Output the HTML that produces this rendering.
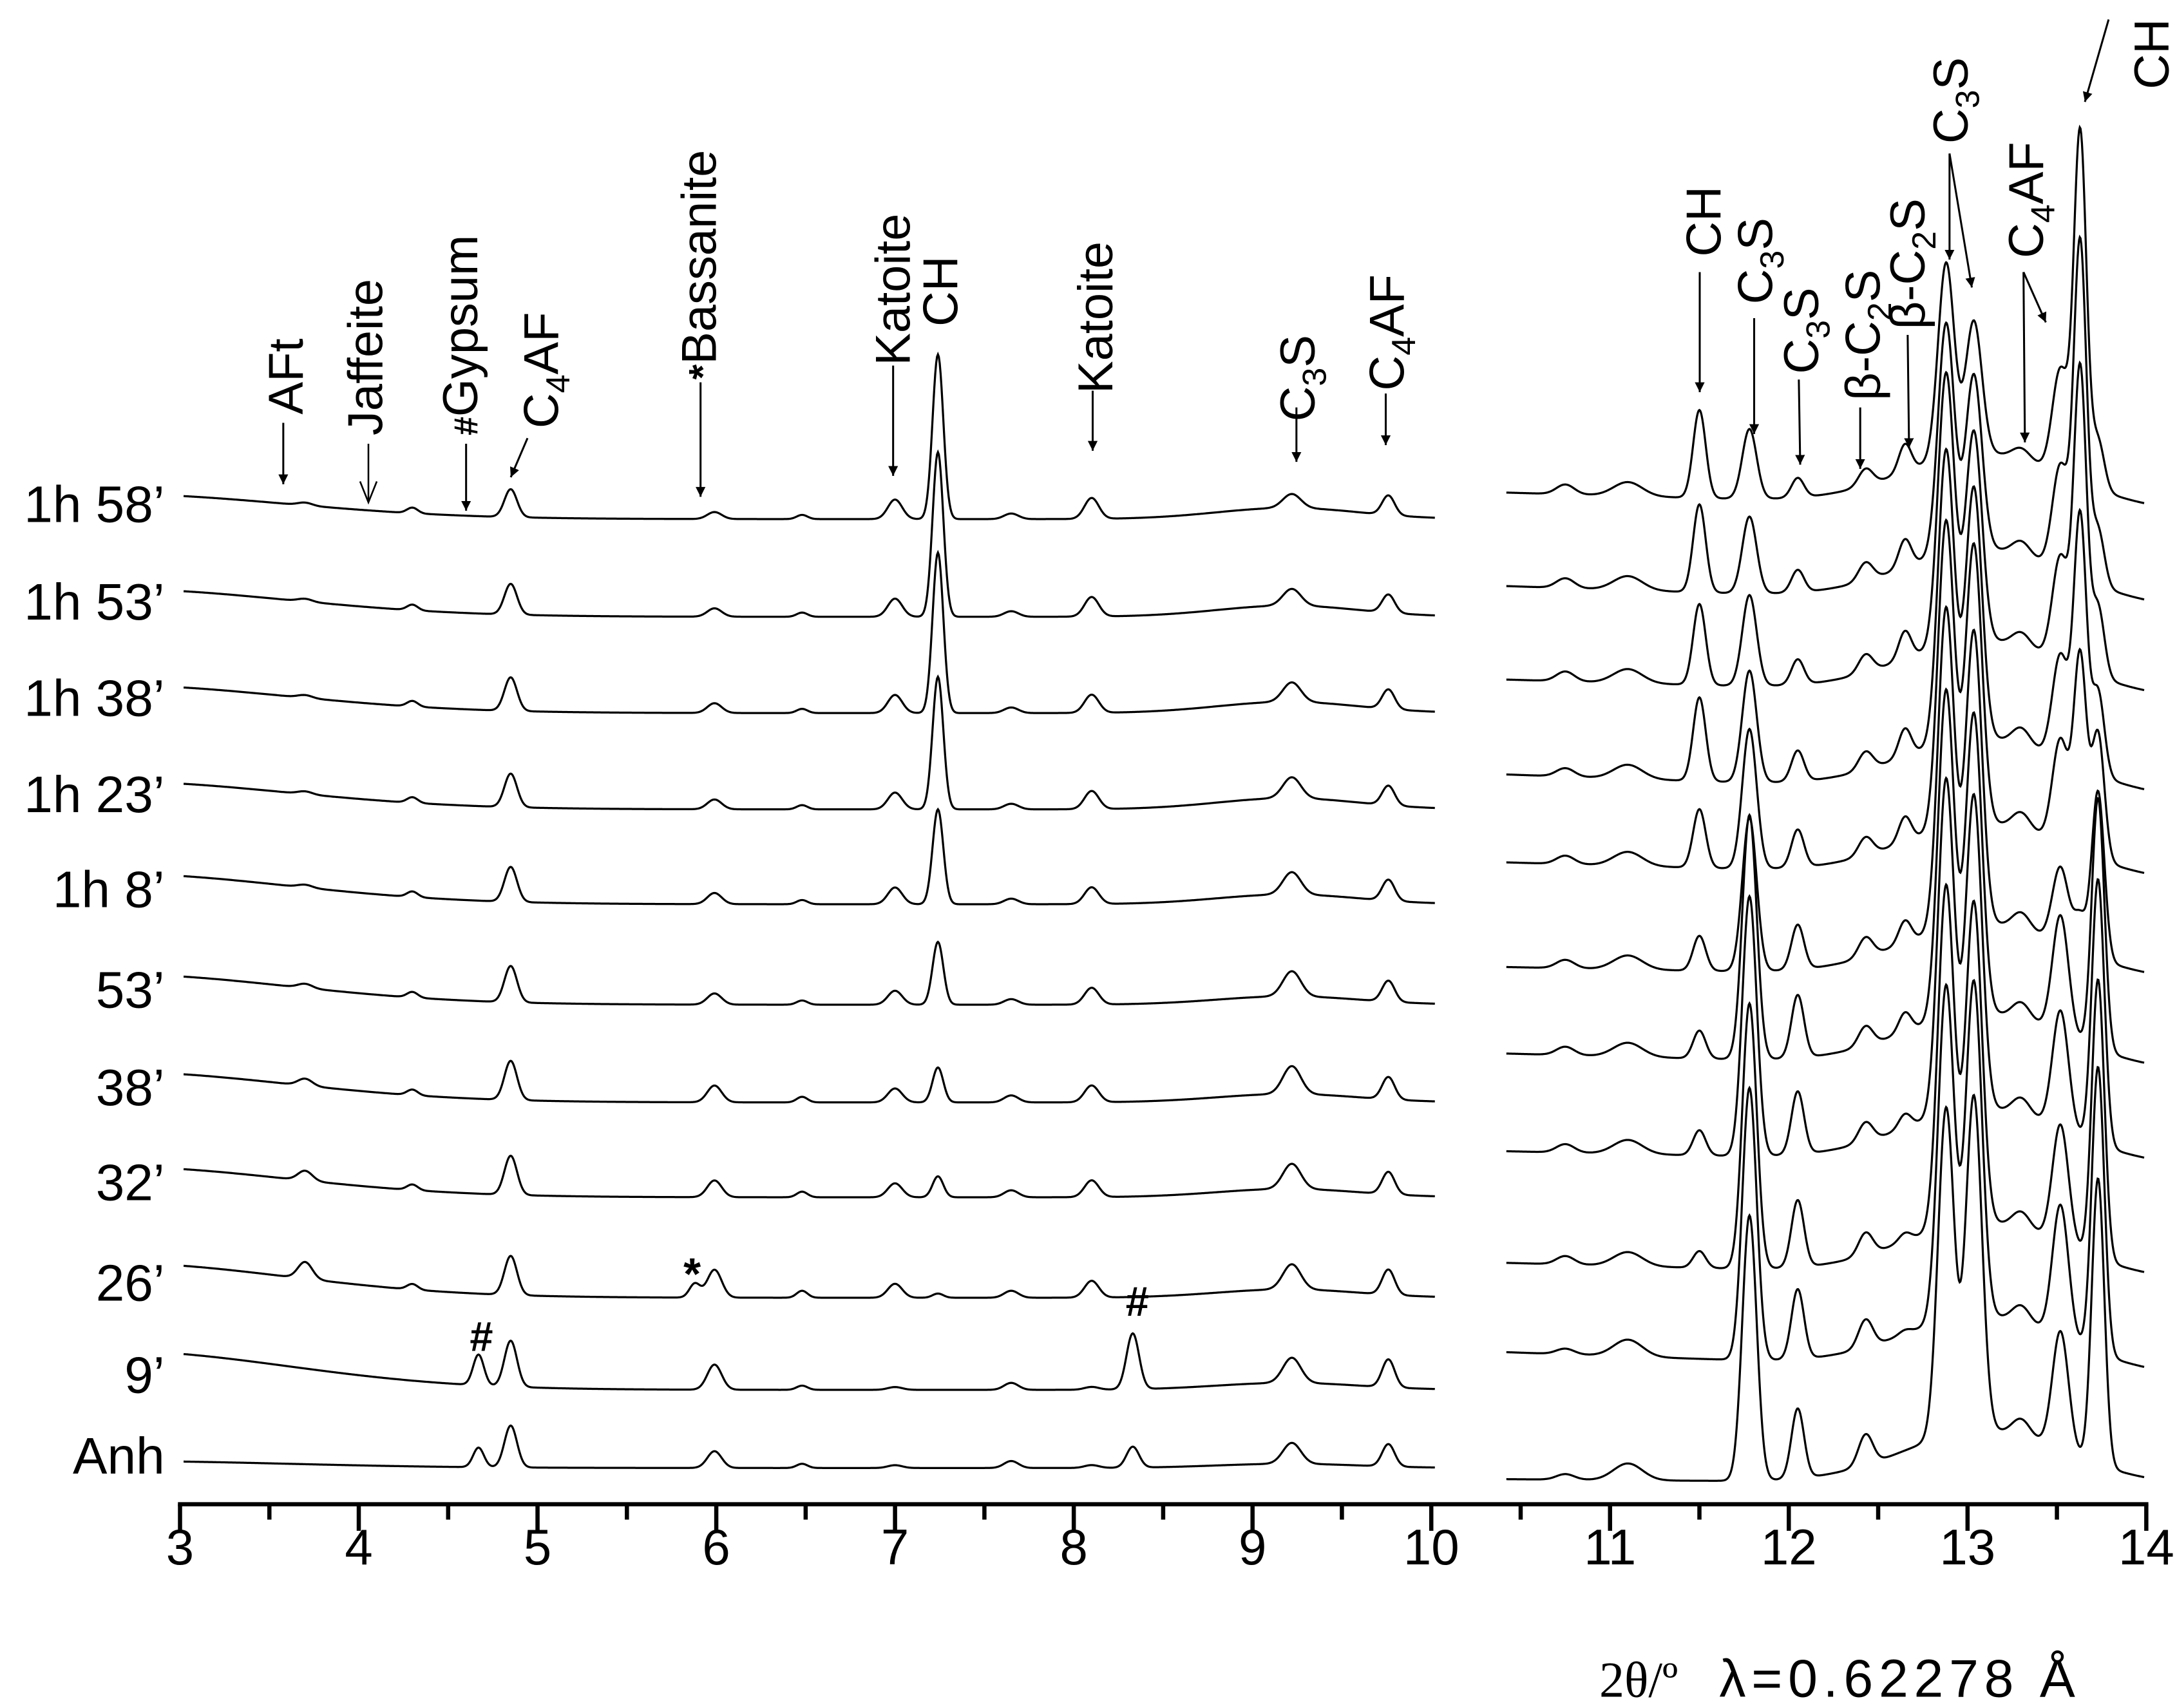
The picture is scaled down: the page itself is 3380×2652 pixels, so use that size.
<!DOCTYPE html>
<html><head><meta charset="utf-8"><style>
html,body{margin:0;padding:0;background:#fff;}
svg{display:block;}
text{font-family:"Liberation Sans",sans-serif;fill:#000;}
</style></head><body>
<svg id="chart" xmlns="http://www.w3.org/2000/svg" width="3380" height="2652" viewBox="0 0 1560 1224">
<defs>
<marker id="ah" viewBox="0 0 10 10" refX="10" refY="5" markerWidth="7" markerHeight="7" orient="auto" markerUnits="userSpaceOnUse"><path d="M0,0 L10,5 L0,10 z" fill="#000"/></marker>
</defs>
<rect width="1560" height="1224" fill="#fff"/>
<g id="traces"></g>
<g id="axis"></g>
<g id="labels"></g>
<g id="annot" font-size="35">
  <text transform="translate(217,297) rotate(-90)">AFt</text>
  <line x1="203" y1="303" x2="203" y2="347" stroke="#000" stroke-width="1.4" marker-end="url(#ah)"/>
  <text transform="translate(274,312) rotate(-90)">Jaffeite</text>
  <line x1="264" y1="318" x2="264" y2="360" stroke="#000" stroke-width="1.2"/>
  <path d="M258,345 L264,360 L270,345" fill="none" stroke="#000" stroke-width="1.2"/>
  <text transform="translate(342,312) rotate(-90)"><tspan font-weight="bold" font-size="24">#</tspan>Gypsum</text>
  <line x1="334" y1="318" x2="334" y2="366" stroke="#000" stroke-width="1.4" marker-end="url(#ah)"/>
  <text transform="translate(400,307) rotate(-90)">C<tspan dy="8" font-size="24">4</tspan><tspan dy="-8">AF</tspan></text>
  <line x1="378" y1="314" x2="366" y2="342" stroke="#000" stroke-width="1.4" marker-end="url(#ah)"/>
  <text transform="translate(513,272) rotate(-90)"><tspan font-weight="bold" font-size="28">*</tspan>Bassanite</text>
  <line x1="502" y1="274" x2="502" y2="356" stroke="#000" stroke-width="1.4" marker-end="url(#ah)"/>
  <text transform="translate(652,262) rotate(-90)">Katoite</text>
  <line x1="640" y1="262" x2="640" y2="341" stroke="#000" stroke-width="1.4" marker-end="url(#ah)"/>
  <text transform="translate(686,234) rotate(-90)">CH</text>
  <text transform="translate(797,282) rotate(-90)">Katoite</text>
  <line x1="783" y1="280" x2="783" y2="323" stroke="#000" stroke-width="1.4" marker-end="url(#ah)"/>
  <text transform="translate(942,302) rotate(-90)">C<tspan dy="8" font-size="24">3</tspan><tspan dy="-8">S</tspan></text>
  <line x1="929" y1="292" x2="929" y2="331" stroke="#000" stroke-width="1.4" marker-end="url(#ah)"/>
  <text transform="translate(1006,280) rotate(-90)">C<tspan dy="8" font-size="24">4</tspan><tspan dy="-8">AF</tspan></text>
  <line x1="993" y1="282" x2="993" y2="319" stroke="#000" stroke-width="1.4" marker-end="url(#ah)"/>
  <text transform="translate(1233,184) rotate(-90)">CH</text>
  <line x1="1218" y1="195" x2="1218" y2="281" stroke="#000" stroke-width="1.4" marker-end="url(#ah)"/>
  <text transform="translate(1270,218) rotate(-90)">C<tspan dy="8" font-size="24">3</tspan><tspan dy="-8">S</tspan></text>
  <line x1="1257" y1="228" x2="1257" y2="311" stroke="#000" stroke-width="1.4" marker-end="url(#ah)"/>
  <text transform="translate(1303,268) rotate(-90)">C<tspan dy="8" font-size="24">3</tspan><tspan dy="-8">S</tspan></text>
  <line x1="1289" y1="272" x2="1290" y2="333" stroke="#000" stroke-width="1.4" marker-end="url(#ah)"/>
  <text transform="translate(1347,287) rotate(-90)">β-C<tspan dy="8" font-size="24">2</tspan><tspan dy="-8">S</tspan></text>
  <line x1="1333" y1="292" x2="1333" y2="336" stroke="#000" stroke-width="1.4" marker-end="url(#ah)"/>
  <text transform="translate(1379,236) rotate(-90)">β-C<tspan dy="8" font-size="24">2</tspan><tspan dy="-8">S</tspan></text>
  <line x1="1367" y1="240" x2="1368" y2="321" stroke="#000" stroke-width="1.4" marker-end="url(#ah)"/>
  <text transform="translate(1410,103) rotate(-90)">C<tspan dy="8" font-size="24">3</tspan><tspan dy="-8">S</tspan></text>
  <line x1="1397" y1="110" x2="1397" y2="186" stroke="#000" stroke-width="1.4" marker-end="url(#ah)"/>
  <line x1="1397" y1="110" x2="1413" y2="206" stroke="#000" stroke-width="1.4" marker-end="url(#ah)"/>
  <text transform="translate(1464,185) rotate(-90)">C<tspan dy="8" font-size="24">4</tspan><tspan dy="-8">AF</tspan></text>
  <line x1="1450" y1="195" x2="1451" y2="317" stroke="#000" stroke-width="1.4" marker-end="url(#ah)"/>
  <line x1="1450" y1="195" x2="1466" y2="231" stroke="#000" stroke-width="1.4" marker-end="url(#ah)"/>
  <text transform="translate(1554,64) rotate(-90)">CH</text>
  <line x1="1511" y1="14" x2="1494" y2="73" stroke="#000" stroke-width="1.4" marker-end="url(#ah)"/>
  <text x="345" y="968" font-size="30" font-weight="bold" text-anchor="middle">#</text>
  <text x="815" y="943" font-size="30" font-weight="bold" text-anchor="middle">#</text>
  <text x="496" y="924" font-size="32" font-weight="bold" text-anchor="middle">*</text>
</g>
<text x="1146" y="1216" font-size="36" style="font-family:'Liberation Serif',serif">2θ/º</text>
<text x="1232" y="1216" font-size="38" textLength="255">λ=0.62278 Å</text>
</svg>
<script>
const samples = ["Anh","9’","26’","32’","38’","53’","1h 8’","1h 23’","1h 38’","1h 53’","1h 58’"];
const offsetLeft = [26, 82, 148, 220, 288, 358, 430, 498, 567, 636, 706];
const offsetRightStart = [18, 109, 173, 253, 323, 385, 460, 523, 591, 658, 725];
const offsetRightEnd = [14, 93, 161, 243, 311, 376, 447, 507, 578, 643, 712];
const leftCenters = [3.70, 4.30, 4.67, 4.85, 5.88, 5.99, 6.48, 7.00, 7.24, 7.65, 8.10, 8.33, 9.22, 9.76, 2.6, 9.2];
const leftWidths  = [0.04, 0.03, 0.03, 0.035,0.03, 0.04, 0.03, 0.04, 0.03, 0.04, 0.04, 0.035,0.05, 0.035,1.0, 0.4];
const leftHeights = [
 [0,0,14,30,0,12,3,2,0,5,2,15,15,16,5,3],
 [0,0,22,33,0,18,3,2,0,5,2,40,18,20,28,5],
 [12,4,0,28,10,20,5,10,3,5,12,0,18,18,25,6],
 [7,4,0,28,0,12,4,10,15,5,12,0,18,16,22,6],
 [5,4,0,28,0,12,4,10,25,5,12,0,20,16,22,6],
 [3,4,0,26,0,8,3,10,45,4,12,0,18,15,22,6],
 [2,4,0,25,0,8,3,12,68,4,12,0,16,15,22,7],
 [2,4,0,24,0,7,3,12,95,4,13,0,15,14,20,8],
 [2,4,0,24,0,7,3,13,115,4,13,0,14,14,20,8],
 [2,4,0,22,0,6,3,13,118,4,14,0,12,13,20,8],
 [2,4,0,20,0,5,3,14,118,4,15,0,10,14,18,8]
];
const rightCenters = [10.75, 11.10, 11.50, 11.78, 12.05, 12.43, 12.65, 12.88, 13.035, 13.30, 13.52, 13.63, 13.73, 13.1];
const rightWidths  = [0.05, 0.08, 0.035, 0.04, 0.035, 0.04, 0.035, 0.045, 0.045, 0.05, 0.045, 0.035, 0.035, 0.45];
const rightHeights = [
 [4,12,0,190,50,22,0,235,240,12,85,0,205,38],
 [4,12,0,195,50,20,3,240,240,12,95,0,205,38],
 [6,10,12,190,48,16,6,245,230,12,85,0,200,38],
 [6,10,18,186,45,14,10,240,225,12,85,0,190,38],
 [6,10,20,175,45,14,14,235,215,12,85,0,180,38],
 [6,10,25,110,32,14,16,230,210,12,55,25,120,38],
 [6,10,42,100,27,13,18,220,200,12,75,140,90,38],
 [6,10,60,80,22,13,20,210,180,12,75,180,60,38],
 [7,10,58,65,18,13,20,195,150,10,75,215,50,38],
 [7,10,63,55,16,13,20,165,125,10,75,240,40,38],
 [7,10,63,50,14,12,20,140,95,8,75,250,35,38]
];
const xTicks = [3,4,5,6,7,8,9,10,11,12,13,14];
const leftRange = [3.02, 10.02];
const rightRange = [10.42, 13.99];

const NS = "http://www.w3.org/2000/svg";
const X0 = 129, X1 = 1538, AXY = 1078;
function xs(t){ return X0 + (t - 3) * (X1 - X0) / 11; }
function ys(v){ return AXY - v; }
function g(t, c, w){ const d = (t - c) / w; return Math.exp(-0.5 * d * d); }

const tg = document.getElementById("traces");
samples.forEach(function(name, i){
  let pts = [];
  for (let t = leftRange[0]; t <= leftRange[1] + 1e-9; t += 0.005) {
    let v = offsetLeft[i];
    for (let k = 0; k < leftCenters.length; k++) v += leftHeights[i][k] * g(t, leftCenters[k], leftWidths[k]);
    pts.push(xs(t).toFixed(2) + "," + ys(v).toFixed(2));
  }
  const pl = document.createElementNS(NS, "polyline");
  pl.setAttribute("points", pts.join(" "));
  pl.setAttribute("fill", "none"); pl.setAttribute("stroke", "#000"); pl.setAttribute("stroke-width", "1.5");
  
  
  tg.appendChild(pl);
  pts = [];
  for (let t = rightRange[0]; t <= rightRange[1] + 1e-9; t += 0.004) {
    const f = (t - rightRange[0]) / (rightRange[1] - rightRange[0]);
    let v = offsetRightStart[i] + (offsetRightEnd[i] - offsetRightStart[i]) * f;
    for (let k = 0; k < rightCenters.length; k++) v += rightHeights[i][k] * g(t, rightCenters[k], rightWidths[k]);
    pts.push(xs(t).toFixed(2) + "," + ys(v).toFixed(2));
  }
  const pr = document.createElementNS(NS, "polyline");
  pr.setAttribute("points", pts.join(" "));
  pr.setAttribute("fill", "none"); pr.setAttribute("stroke", "#000"); pr.setAttribute("stroke-width", "1.5");
  
  
  tg.appendChild(pr);
  const lb = document.createElementNS(NS, "text");
  lb.setAttribute("x", 118);
  lb.setAttribute("y", ys(offsetLeft[i]) + (i === 0 ? 4 : 2));
  lb.setAttribute("text-anchor", "end");
  lb.setAttribute("font-size", "37");
  lb.textContent = name;
  
  
  document.getElementById("labels").appendChild(lb);
});

const ag = document.getElementById("axis");
const base = document.createElementNS(NS, "line");
base.setAttribute("x1", X0 - 1.5); base.setAttribute("x2", X1 + 1.5);
base.setAttribute("y1", AXY); base.setAttribute("y2", AXY);
base.setAttribute("stroke", "#000"); base.setAttribute("stroke-width", "3");


ag.appendChild(base);
for (let t = 3; t <= 14.001; t += 0.5) {
  const major = Math.abs(t - Math.round(t)) < 1e-6;
  const tk = document.createElementNS(NS, "line");
  tk.setAttribute("x1", xs(t)); tk.setAttribute("x2", xs(t));
  tk.setAttribute("y1", AXY); tk.setAttribute("y2", AXY + (major ? 19 : 11));
  tk.setAttribute("stroke", "#000"); tk.setAttribute("stroke-width", "3");
  
  
  ag.appendChild(tk);
}
xTicks.forEach(function(t){
  const tl = document.createElementNS(NS, "text");
  tl.setAttribute("x", xs(t)); tl.setAttribute("y", 1121);
  tl.setAttribute("text-anchor", "middle"); tl.setAttribute("font-size", "36");
  tl.textContent = String(t);
  
  
  ag.appendChild(tl);
});
</script>
</body></html>
